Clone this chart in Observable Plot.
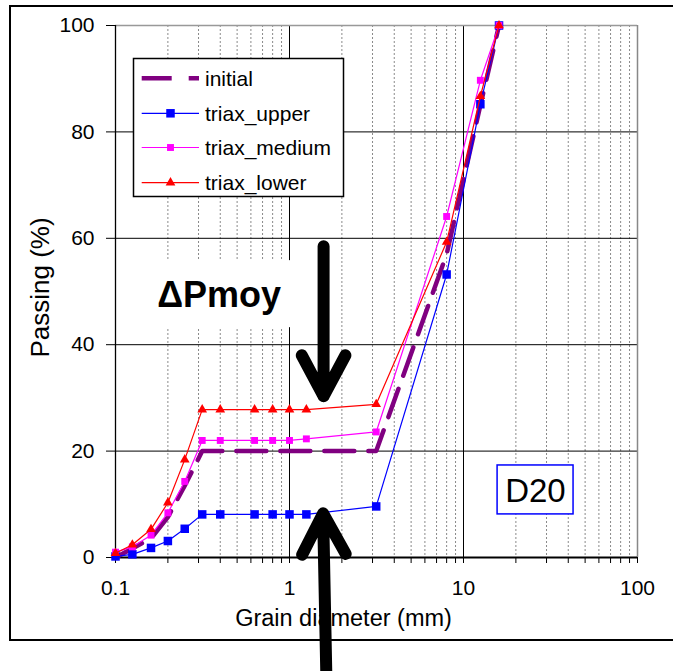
<!DOCTYPE html>
<html><head><meta charset="utf-8">
<script src="https://cdn.jsdelivr.net/npm/d3@7"></script>
<script src="https://cdn.jsdelivr.net/npm/@observablehq/plot@0.6"></script>
<style>
html,body{margin:0;padding:0;background:#fff;}
#chart{position:relative;width:673px;height:671px;overflow:hidden;background:#fff;}
</style></head><body><div id="chart"></div>
<script>
// ---- data ----
const diameters   = [0.1, 0.125, 0.16, 0.2, 0.25, 0.315, 0.4, 0.63, 0.8, 1, 1.25, 3.15, 8, 12.5, 16];
const initial     = [0, 1.7, 3.6, 7.6, 13.5, 20, 20, 20, 20, 20, 20, 20, 57, 85, 100];
const triaxUpper  = [0.2, 0.6, 1.8, 3.1, 5.4, 8.1, 8.1, 8.1, 8.1, 8.1, 8.1, 9.6, 53.2, 85.2, 100];
const triaxMedium = [1.0, 2.0, 4.2, 8.4, 14.3, 22.0, 22.0, 22.0, 22.0, 22.0, 22.3, 23.6, 64.1, 89.7, 100];
const triaxLower  = [0.8, 2.4, 5.3, 10.3, 18.4, 27.8, 27.8, 27.8, 27.8, 27.8, 27.8, 28.8, 59.3, 86.7, 100];
const seriesNames = ["initial", "triax_upper", "triax_medium", "triax_lower"];
const xTickValues = [0.1, 1, 10, 100];
const xTickLabels = ["0.1", "1", "10", "100"];
const yTickValues = [0, 20, 40, 60, 80, 100];
const xTitle = "Grain diameter (mm)";
const yTitle = "Passing (%)";

// annotations (data coordinates)
const deltaLabel = {text: "ΔPmoy", d: 0.394, p: 49.2};
const deltaBox = {x1: 0.155, x2: 1.05, y1: 43.2, y2: 55.8};
const d20Label = {text: "D20", d: 25.9, p: 12.4};
const d20Box = {x1: 15.7, x2: 42.9, y1: 8.1, y2: 17.3};
const arrows = [
  {x1: 1.57, y1: 58.5, x2: 1.57, y2: 30.3},
  {x1: 1.63, y1: -23, x2: 1.56, y2: 8.3}
];

// ---- build tables ----
const values = [initial, triaxUpper, triaxMedium, triaxLower];
const rows = seriesNames.map((name, s) => diameters.map((d, i) => ({series: name, d, p: values[s][i]})));
const minor = [];
for (const dec of [0.1, 1, 10]) for (let k = 2; k <= 9; k++) minor.push(+(k * dec).toPrecision(3));

const fontFamily = '"Liberation Sans", Arial, Helvetica, sans-serif';
const colors = {initial: "#800080", triax_upper: "#0000ff", triax_medium: "#ff00ff", triax_lower: "#ff0000"};

const plot = Plot.plot({
  width: 673, height: 671,
  marginLeft: 115, marginRight: 36, marginTop: 25, marginBottom: 114,
  style: {fontFamily, fontSize: "21px", background: "white", color: "black"},
  x: {type: "log", domain: [0.1, 100]},
  y: {domain: [0, 100]},
  marks: [
    Plot.ruleX(minor, {stroke: "#8a8a8a", strokeDasharray: "2,2", strokeWidth: 1}),
    Plot.ruleX([1, 10], {stroke: "black", strokeWidth: 1}),
    Plot.ruleY([20, 40, 60, 80], {stroke: "black", strokeWidth: 1}),
    Plot.ruleY([100], {stroke: "#999", strokeWidth: 1.5}),
    Plot.ruleX([100], {stroke: "#888", strokeWidth: 1.5}),
    Plot.axisY({ticks: yTickValues, tickSize: 9, tickPadding: 12, label: null, fontSize: 21}),
    Plot.axisX({ticks: [...minor, ...xTickValues], tickSize: 6, fill: "none", label: null}),
    Plot.axisX({ticks: xTickValues, tickSize: 0, tickPadding: 23, label: null, fontSize: 21,
      tickFormat: d => xTickLabels[xTickValues.indexOf(d)]}),
    Plot.ruleX([0.1], {stroke: "black", strokeWidth: 1.3}),
    Plot.ruleY([0], {stroke: "black", strokeWidth: 2}),
    // white box behind delta label
    Plot.rect([deltaBox], {x1: "x1", x2: "x2", y1: "y1", y2: "y2", fill: "white"}),
    Plot.rect([d20Box], {x1: "x1", x2: "x2", y1: "y1", y2: "y2", fill: "white", stroke: "#0000ff", strokeWidth: 1.5}),
    // series
    Plot.line(rows[0], {x: "d", y: "p", stroke: colors.initial, strokeWidth: 4.5, strokeDasharray: "30,14"}),
    Plot.line(rows[1], {x: "d", y: "p", stroke: colors.triax_upper, strokeWidth: 1.2}),
    Plot.dot(rows[1], {x: "d", y: "p", symbol: "square", r: 4.8, fill: colors.triax_upper, stroke: "none"}),
    Plot.line(rows[2], {x: "d", y: "p", stroke: colors.triax_medium, strokeWidth: 1.2}),
    Plot.dot(rows[2], {x: "d", y: "p", symbol: "square", r: 3.9, fill: colors.triax_medium, stroke: "none"}),
    Plot.line(rows[3], {x: "d", y: "p", stroke: colors.triax_lower, strokeWidth: 1.2}),
    Plot.dot(rows[3], {x: "d", y: "p", symbol: "triangle", r: 3.6, fill: colors.triax_lower, stroke: "none"}),
    // annotations
    Plot.text([deltaLabel], {x: "d", y: "p", text: "text", fontSize: 36, fontWeight: "bold", fill: "black"}),
    Plot.text([d20Label], {x: "d", y: "p", text: "text", fontSize: 33, fill: "black"}),
    Plot.arrow(arrows, {x1: "x1", y1: "y1", x2: "x2", y2: "y2", stroke: "black", strokeWidth: 12,
      headAngle: 56, headLength: 5.8, strokeLinecap: "round"}),
    // axis titles
    Plot.text([xTitle], {frameAnchor: "bottom", lineAnchor: "middle", textAnchor: "middle", dx: -33, dy: 61, fontSize: 23.5, fill: "black"}),
    Plot.text([yTitle], {frameAnchor: "left", lineAnchor: "middle", textAnchor: "middle", rotate: -90, dx: -75, dy: -4, fontSize: 26, fill: "black"})
  ]
});

// outer chart-area border (behind everything)
const svg = d3.select(plot);
svg.insert("rect", ":first-child")
  .attr("x", 10).attr("y", 6).attr("width", 700).attr("height", 634)
  .attr("fill", "none").attr("stroke", "black").attr("stroke-width", 2);

// legend
const lg = svg.append("g").attr("font-family", fontFamily).attr("font-size", 21).attr("text-anchor", "start");
lg.append("rect").attr("x", 133.5).attr("y", 58.5).attr("width", 210).attr("height", 138)
  .attr("fill", "white").attr("stroke", "black").attr("stroke-width", 1.5);
const rowY = [78.3, 113.3, 147.5, 182.7];
const symSpec = {
  triax_upper: [d3.symbolSquare, Math.PI * 4.8 * 4.8],
  triax_medium: [d3.symbolSquare, Math.PI * 3.9 * 3.9],
  triax_lower: [d3.symbolTriangle, Math.PI * 3.6 * 3.6]
};
seriesNames.forEach((name, i) => {
  const y = rowY[i];
  const c = colors[name];
  if (name === "initial") {
    lg.append("line").attr("x1", 141.7).attr("x2", 199).attr("y1", y).attr("y2", y)
      .attr("stroke", c).attr("stroke-width", 4.5).attr("stroke-dasharray", "30,17");
  } else {
    lg.append("line").attr("x1", 141.7).attr("x2", 199).attr("y1", y).attr("y2", y)
      .attr("stroke", c).attr("stroke-width", 1.2);
    const [t, s] = symSpec[name];
    lg.append("path").attr("d", d3.symbol(t, s)()).attr("transform", `translate(170.5,${y})`).attr("fill", c);
  }
  lg.append("text").attr("x", 205).attr("y", y).attr("dy", "0.35em").attr("text-anchor", "start")
    .attr("fill", "black").text(name);
});

document.getElementById("chart").appendChild(plot);
</script>
</body></html>
